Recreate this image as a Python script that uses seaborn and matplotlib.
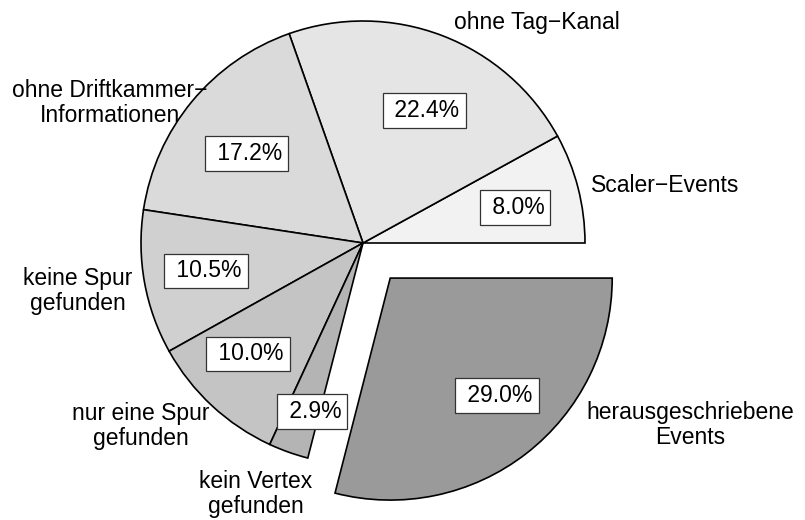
import matplotlib
matplotlib.use("Agg")
import matplotlib.pyplot as plt
import seaborn as sns

# ======================
# Data
# ======================
categories = ["Scaler\u2212Events", "ohne Tag\u2212Kanal",
              "ohne Driftkammer\u2212\nInformationen", "keine Spur\ngefunden",
              "nur eine Spur\ngefunden", "kein Vertex\ngefunden",
              "herausgeschriebene\nEvents"]
shares = [8.0, 22.4, 17.2, 10.5, 10.0, 2.9, 29.0]
exploded = [0, 0, 0, 0, 0, 0, 1]

# ======================
# Styling / positions (data units, pie radius = 1)
# ======================
grays = ["#f2f2f2", "#e5e5e5", "#dadada", "#d0d0d0", "#c4c4c4", "#b4b4b4", "#9a9a9a"]
pct_pos = [(0.685, 0.158), (0.275, 0.595), (-0.523, 0.405), (-0.707, -0.126),
           (-0.518, -0.500), (-0.230, -0.761), (0.604, -0.689)]
label_pos = [(1.360, 0.261), (0.784, 0.995), (-1.140, 0.631), (-1.284, -0.216),
             (-1.000, -0.824), (-0.482, -1.131), (1.473, -0.820)]

sns.set_style("white")
plt.rcParams["font.family"] = ["Liberation Sans", "DejaVu Sans"]
plt.rcParams["text.color"] = "black"
palette = sns.color_palette(grays)

fig = plt.figure(figsize=(8.05, 5.2), dpi=100)
ax = fig.add_axes([0, 0, 1, 1])

ax.pie(shares, colors=palette, startangle=0, counterclock=True,
       explode=[0.2 * e for e in exploded],
       wedgeprops=dict(edgecolor="black", linewidth=1.2), center=(0, 0), radius=1)

for val, (x, y) in zip(shares, pct_pos):
    ax.text(x, y, f" {val:.1f}%", ha="center", va="center", fontsize=16.5,
            color="black",
            bbox=dict(boxstyle="square,pad=0.26", facecolor="white",
                      edgecolor="#333333", linewidth=0.9))

for lab, (x, y) in zip(categories, label_pos):
    ax.text(x, y, lab, ha="center", va="center", fontsize=16.5, color="black",
            linespacing=1.1, multialignment="center")

ax.set_xlim(-363 / 222, (805 - 363) / 222)
ax.set_ylim(-(520 - 243) / 222, 243 / 222)
ax.set_aspect("equal")
ax.axis("off")

fig.savefig("out.png", dpi=100, facecolor="white")
